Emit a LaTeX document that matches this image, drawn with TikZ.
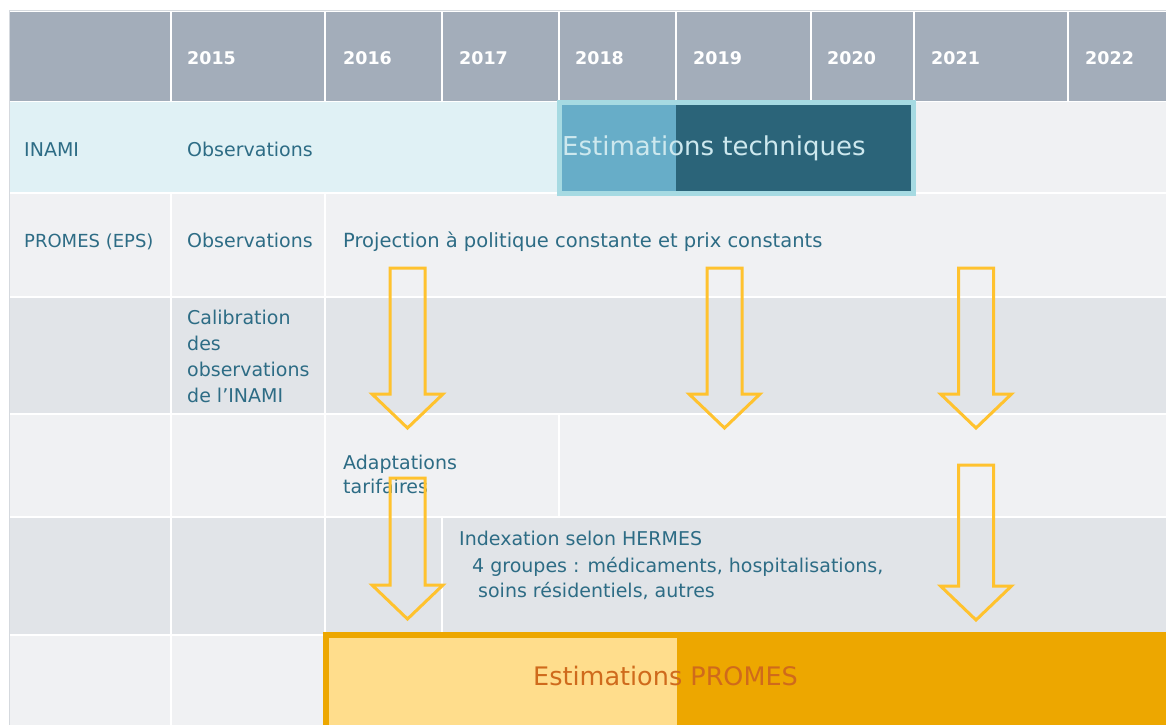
\documentclass[tikz,border=0pt]{standalone}
\usepackage{fontspec}
\setmainfont{DejaVu Sans}
\definecolor{headbg}{HTML}{A3ADBA}
\definecolor{inamibg}{HTML}{E0F1F5}
\definecolor{lightrow}{HTML}{F0F1F3}
\definecolor{grayrow}{HTML}{E1E4E8}
\definecolor{frame}{HTML}{D5D9DE}
\definecolor{txt}{HTML}{2D6C85}
\definecolor{techborder}{HTML}{A6DAE2}
\definecolor{techlight}{HTML}{67ADC8}
\definecolor{techdark}{HTML}{2B6479}
\definecolor{techtxt}{HTML}{CDE8EE}
\definecolor{promesdark}{HTML}{EDA700}
\definecolor{promeslight}{HTML}{FFDD8C}
\definecolor{promestxt}{HTML}{CF6A1C}
\definecolor{arrowcol}{HTML}{FFC22E}
% one table cell, leaving a white 2px rule between neighbours
\newcommand\tcell[5]{\fill[#5] ({#1+1},{#2+1}) rectangle ({#3-1},{#4-1});}
\begin{document}
\begin{tikzpicture}[x=1pt,y=-1pt,
  yr/.style={anchor=base west,inner sep=0pt,text=white,font=\fontsize{17.5}{20}\selectfont\bfseries},
  lbl/.style={anchor=base west,inner sep=0pt,text=txt,font=\fontsize{19}{22}\selectfont},
  bigtxt/.style={anchor=base west,inner sep=0pt,font=\fontsize{26}{30}\selectfont},
  arrowline/.style={draw=arrowcol,line width=3pt,line join=miter},
  pics/dnarrow/.style={code={
    \draw[arrowline] (-17.5,0) -- (17.5,0) -- (17.5,#1) -- (35.5,#1)
      -- (0,{#1+34}) -- (-35.5,#1) -- (-17.5,#1) -- cycle;}}]
\useasboundingbox (0,0) rectangle (1166,724);
\fill[white] (0,0) rectangle (1166,724);

% table frame and white grid rules
\draw[frame,line width=1pt] (9,730) -- (9,10.5) -- (1170,10.5);
\fill[white] (9.5,11) rectangle (1170,730);

% header row
\tcell{9}{11}{171}{102}{headbg}
\tcell{171}{11}{325}{102}{headbg}
\tcell{325}{11}{442}{102}{headbg}
\tcell{442}{11}{559}{102}{headbg}
\tcell{559}{11}{676}{102}{headbg}
\tcell{676}{11}{811}{102}{headbg}
\tcell{811}{11}{914}{102}{headbg}
\tcell{914}{11}{1068}{102}{headbg}
\tcell{1068}{11}{1170}{102}{headbg}

% INAMI row
\fill[inamibg] (10,102) rectangle (560,192);
\fill[lightrow] (560,102) rectangle (1170,192);

% PROMES row
\tcell{9}{193}{171}{297}{lightrow}
\tcell{171}{193}{325}{297}{lightrow}
\tcell{325}{193}{1170}{297}{lightrow}

% calibration row
\tcell{9}{297}{171}{414}{grayrow}
\tcell{171}{297}{325}{414}{grayrow}
\tcell{325}{297}{1170}{414}{grayrow}

% tariff row
\tcell{9}{414}{171}{517}{lightrow}
\tcell{171}{414}{325}{517}{lightrow}
\tcell{325}{414}{559}{517}{lightrow}
\tcell{559}{414}{1170}{517}{lightrow}

% indexation row
\tcell{9}{517}{171}{635}{grayrow}
\tcell{171}{517}{325}{635}{grayrow}
\tcell{325}{517}{442}{635}{grayrow}
\tcell{442}{517}{1170}{635}{grayrow}

% bottom row
\tcell{9}{635}{171}{730}{lightrow}
\tcell{171}{635}{325}{730}{lightrow}
\tcell{325}{635}{1170}{730}{lightrow}

% technical estimates bar
\draw[techborder,line width=5pt] (559.5,102.5) rectangle (913.5,193.5);
\fill[techlight] (562,105) rectangle (676,191);
\fill[techdark] (676,105) rectangle (911,191);

% PROMES estimates bar
\draw[promesdark,line width=6pt] (326,635) rectangle (1172,732);
\fill[promeslight] (329,638) rectangle (677,730);
\fill[promesdark] (677,638) rectangle (1172,730);

% years
\node[yr] (y2015) at (187,64) {2015};
\node[yr] (y2016) at (343,64) {2016};
\node[yr] (y2017) at (459,64) {2017};
\node[yr] (y2018) at (575,64) {2018};
\node[yr] (y2019) at (693,64) {2019};
\node[yr] (y2020) at (827,64) {2020};
\node[yr] (y2021) at (931,64) {2021};
\node[yr] (y2022) at (1085,64) {2022};

% row texts
\node[lbl] (inami) at (24,156) {INAMI};
\node[lbl] (obsinami) at (187,156) {Observations};
\node[lbl,font=\fontsize{18}{21}\selectfont] (promes) at (24,247) {PROMES (EPS)};
\node[lbl] (obspromes) at (187,247) {Observations};
\node[lbl,font=\fontsize{19.5}{22}\selectfont] (proj) at (343,247) {Projection à politique constante et prix constants};
\node[lbl] (calA) at (187,324) {Calibration};
\node[lbl] (calB) at (187,350) {des};
\node[lbl] (calC) at (187,376) {observations};
\node[lbl] (calD) at (187,402) {de l’INAMI};
\node[lbl] (adaA) at (343,469) {Adaptations};
\node[lbl] (adaB) at (343,493) {tarifaires};
\node[lbl] (idxA) at (459,545) {Indexation selon HERMES};
\node[lbl] (idxB) at (472,572) {4 groupes : médicaments, hospitalisations,};
\node[lbl] (idxC) at (478,597) {soins résidentiels, autres};

\node[bigtxt,text=techtxt] (tech) at (562,155) {Estimations techniques};
\node[bigtxt,font=\fontsize{25.5}{30}\selectfont,text=promestxt] (promesest) at (533,685) {Estimations PROMES};

% block arrows
\pic (arA) at (407.5,268) {dnarrow=126};
\pic (arB) at (724.5,268) {dnarrow=126};
\pic (arC) at (976,268) {dnarrow=126};
\pic (arD) at (407.5,478) {dnarrow=107};
\pic (arE) at (976,465) {dnarrow=121};
\end{tikzpicture}
\end{document}
